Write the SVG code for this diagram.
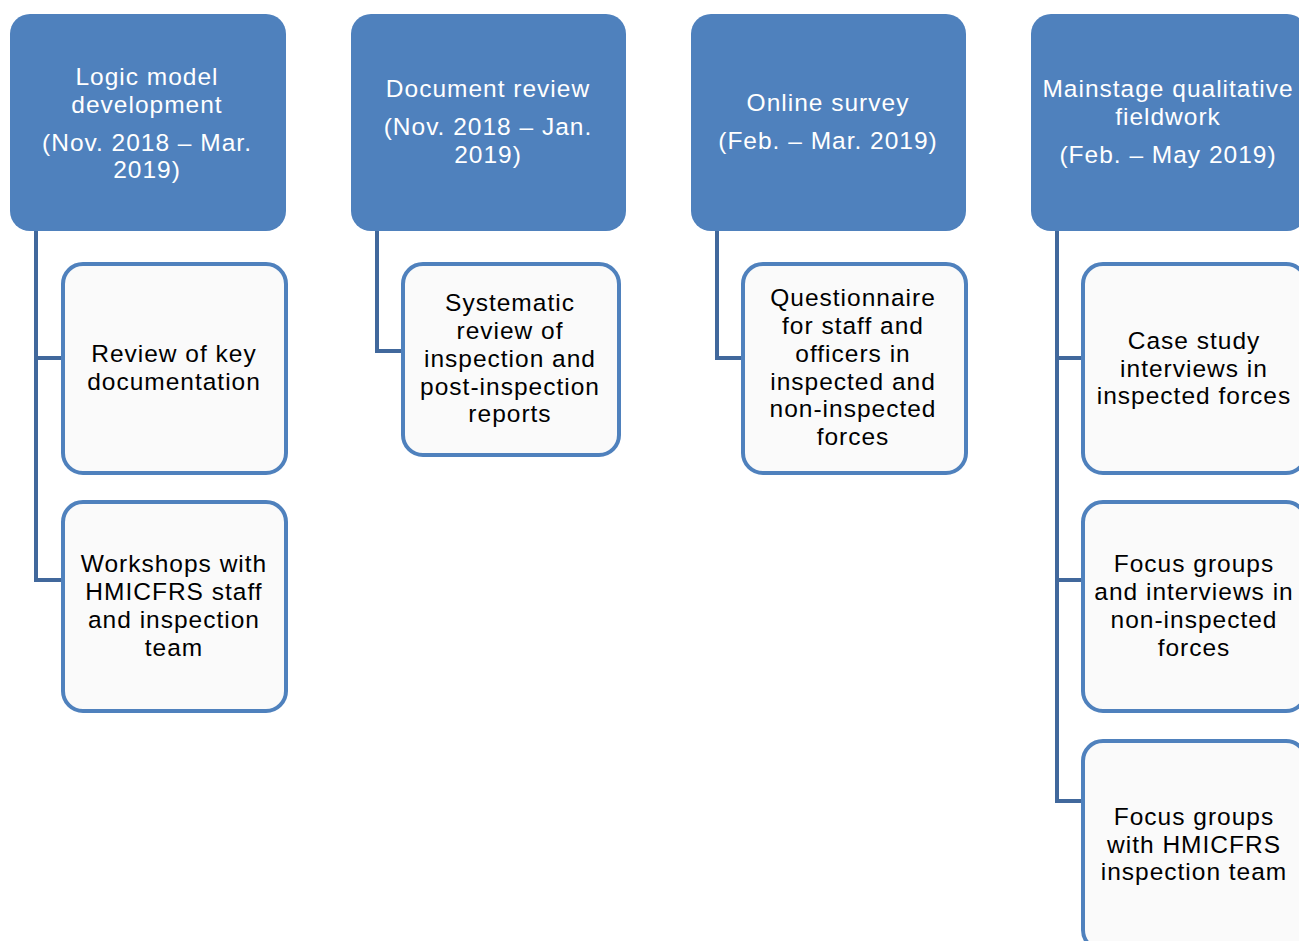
<svg xmlns="http://www.w3.org/2000/svg" width="1299" height="941" viewBox="0 0 1299 941">
<style>
.hd{fill:#4F81BD;}
.ch{fill:#FAFAFA;stroke:#4F81BD;stroke-width:4;}
.ht{font-family:"Liberation Sans",Arial,sans-serif;font-size:24.5px;letter-spacing:1px;fill:#FFFFFF;text-anchor:middle;}
.ct{font-family:"Liberation Sans",Arial,sans-serif;font-size:24.5px;letter-spacing:1px;fill:#000000;text-anchor:middle;}
.cn{fill:none;stroke:#41689C;stroke-width:4;}
</style>
<rect width="1299" height="941" fill="#FFFFFF"/>
<g id="connectors">
<path class="cn" d="M36,231 V580 H63 M36,358 H63"/>
<path class="cn" d="M377,231 V351 H402"/>
<path class="cn" d="M717,231 V358 H743"/>
<path class="cn" d="M1057,231 V801 H1083 M1057,358 H1083 M1057,580 H1083"/>
</g>
<g id="h1"><rect class="hd" x="10" y="14" width="276" height="217" rx="20"/>
<text class="ht" x="147" y="85">Logic model</text><text class="ht" x="147" y="113">development</text><text class="ht" x="147" y="151">(Nov. 2018 – Mar.</text><text class="ht" x="147" y="178">2019)</text></g>
<g id="h2"><rect class="hd" x="351" y="14" width="275" height="217" rx="20"/>
<text class="ht" x="488" y="97">Document review</text><text class="ht" x="488" y="135">(Nov. 2018 – Jan.</text><text class="ht" x="488" y="163">2019)</text></g>
<g id="h3"><rect class="hd" x="691" y="14" width="275" height="217" rx="20"/>
<text class="ht" x="828" y="111">Online survey</text><text class="ht" x="828" y="149">(Feb. – Mar. 2019)</text></g>
<g id="h4"><rect class="hd" x="1031" y="14" width="276" height="217" rx="20"/>
<text class="ht" x="1168" y="97">Mainstage qualitative</text><text class="ht" x="1168" y="125">fieldwork</text><text class="ht" x="1168" y="163">(Feb. – May 2019)</text></g>
<g id="c1"><rect class="ch" x="63" y="264" width="223" height="209" rx="20"/>
<text class="ct" x="174" y="362">Review of key</text><text class="ct" x="174" y="390">documentation</text></g>
<g id="c2"><rect class="ch" x="63" y="502" width="223" height="209" rx="20"/>
<text class="ct" x="174" y="572">Workshops with</text><text class="ct" x="174" y="600">HMICFRS staff</text><text class="ct" x="174" y="628">and inspection</text><text class="ct" x="174" y="656">team</text></g>
<g id="c3"><rect class="ch" x="403" y="264" width="216" height="191" rx="20"/>
<text class="ct" x="510" y="311">Systematic</text><text class="ct" x="510" y="339">review of</text><text class="ct" x="510" y="367">inspection and</text><text class="ct" x="510" y="395">post-inspection</text><text class="ct" x="510" y="422">reports</text></g>
<g id="c4"><rect class="ch" x="743" y="264" width="223" height="209" rx="20"/>
<text class="ct" x="853" y="306">Questionnaire</text><text class="ct" x="853" y="334">for staff and</text><text class="ct" x="853" y="362">officers in</text><text class="ct" x="853" y="390">inspected and</text><text class="ct" x="853" y="417">non-inspected</text><text class="ct" x="853" y="445">forces</text></g>
<g id="c5"><rect class="ch" x="1083" y="264" width="223" height="209" rx="20"/>
<text class="ct" x="1194" y="349">Case study</text><text class="ct" x="1194" y="377">interviews in</text><text class="ct" x="1194" y="404">inspected forces</text></g>
<g id="c6"><rect class="ch" x="1083" y="502" width="223" height="209" rx="20"/>
<text class="ct" x="1194" y="572">Focus groups</text><text class="ct" x="1194" y="600">and interviews in</text><text class="ct" x="1194" y="628">non-inspected</text><text class="ct" x="1194" y="656">forces</text></g>
<g id="c7"><rect class="ch" x="1083" y="741" width="223" height="209" rx="20"/>
<text class="ct" x="1194" y="825">Focus groups</text><text class="ct" x="1194" y="853">with HMICFRS</text><text class="ct" x="1194" y="880">inspection team</text></g>
</svg>
